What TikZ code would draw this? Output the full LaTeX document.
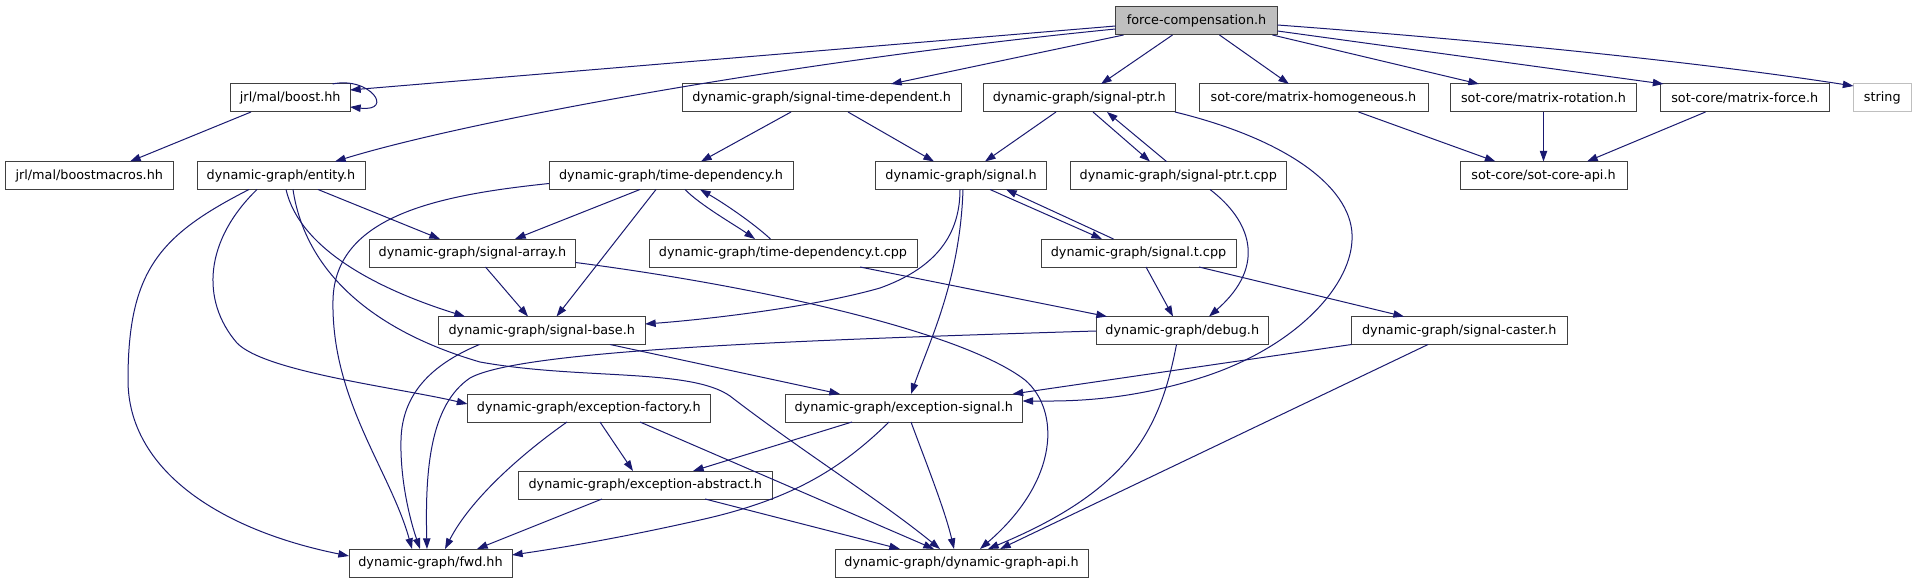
\documentclass[tikz,border=0pt]{standalone}
\usepackage{fontspec}
\setmainfont{DejaVu Sans}
\usetikzlibrary{arrows.meta,calc}
\definecolor{edgeblue}{HTML}{191970}
\definecolor{nodeborder}{HTML}{404040}
\definecolor{fcfill}{HTML}{BFBFBF}
\definecolor{strborder}{HTML}{BFBFBF}
\begin{document}
\begin{tikzpicture}[x=0.75pt,y=-0.75pt,
  nd/.style={draw=nodeborder, line width=0.75pt, fill=white, minimum height=21pt,
    inner sep=0pt, outer sep=0pt, anchor=west, text=black,
    font=\fontsize{9.6}{11}\selectfont},
  wd/.style={minimum width=#1*0.75pt},
  ed/.style={draw=edgeblue, line width=0.75pt, -{Triangle[length=8pt,width=5.5pt]}}]
\useasboundingbox (0,0) rectangle (1915,581);
\fill[white] (0,0) rectangle (1915,581);
% row 1
\node[nd, wd=162, fill=fcfill] (fc) at (1115.5,21) {force-compensation.h};
% row 2
\node[nd, wd=119.5] (boost) at (230.5,98) {jrl/mal/boost.hh};
\node[nd, wd=278.5] (std) at (682.5,98) {dynamic-graph/signal-time-dependent.h};
\node[nd, wd=191.5] (sptr) at (983.5,98) {dynamic-graph/signal-ptr.h};
\node[nd, wd=229] (mhom) at (1199,98) {sot-core/matrix-homogeneous.h};
\node[nd, wd=186] (mrot) at (1450.5,98) {sot-core/matrix-rotation.h};
\node[nd, wd=168.5] (mfor) at (1660.5,98) {sot-core/matrix-force.h};
\node[nd, wd=57.5, draw=strborder] (str) at (1853.5,98) {string};
% row 3
\node[nd, wd=168.5] (bmac) at (5,175.5) {jrl/mal/boostmacros.hh};
\node[nd, wd=168] (ent) at (197,175.5) {dynamic-graph/entity.h};
\node[nd, wd=244] (tdep) at (549,175.5) {dynamic-graph/time-dependency.h};
\node[nd, wd=171] (sig) at (875.5,175.5) {dynamic-graph/signal.h};
\node[nd, wd=215.5] (sptrt) at (1070.5,175.5) {dynamic-graph/signal-ptr.t.cpp};
\node[nd, wd=167] (sapi) at (1460,175.5) {sot-core/sot-core-api.h};
% row 4
\node[nd, wd=206] (sarr) at (369.5,253) {dynamic-graph/signal-array.h};
\node[nd, wd=268] (tdept) at (649,253) {dynamic-graph/time-dependency.t.cpp};
\node[nd, wd=195] (sigt) at (1041,253) {dynamic-graph/signal.t.cpp};
% row 5
\node[nd, wd=206.5] (sbase) at (438.5,330.5) {dynamic-graph/signal-base.h};
\node[nd, wd=172.5] (dbg) at (1096,330.5) {dynamic-graph/debug.h};
\node[nd, wd=215.5] (scast) at (1351.5,330.5) {dynamic-graph/signal-caster.h};
% row 6
\node[nd, wd=242.5] (efac) at (467.5,408) {dynamic-graph/exception-factory.h};
\node[nd, wd=237.5] (esig) at (785,408) {dynamic-graph/exception-signal.h};
% row 7
\node[nd, wd=253.5] (eabs) at (518.5,485) {dynamic-graph/exception-abstract.h};
% row 8
\node[nd, wd=163] (fwd) at (349,563) {dynamic-graph/fwd.hh};
\node[nd, wd=253] (dgapi) at (835,563) {dynamic-graph/dynamic-graph-api.h};

% edges from force-compensation.h
\draw[ed] ($(fc.west)+(0,5)$) -- ($(boost.east)+(0,-8)$);
\draw[ed] ($(fc.west)+(0,8)$) .. controls (800,60) and (470,120) .. ($(ent.north west)+(138,0)$);
\draw[ed] ($(fc.south west)+(8,0)$) -- ($(std.north west)+(208.5,0)$);
\draw[ed] ($(fc.south west)+(57,0)$) -- ($(sptr.north west)+(117.5,0)$);
\draw[ed] ($(fc.south west)+(104,0)$) -- ($(mhom.north west)+(90,0)$);
\draw[ed] ($(fc.south east)+(-5,0)$) -- ($(mrot.north west)+(28.5,0)$);
\draw[ed] ($(fc.east)+(0,10)$) -- ($(mfor.north west)+(3,0)$);
\draw[ed] ($(fc.east)+(0,4)$) .. controls (1480,40) and (1700,62) .. ($(str.north west)+(0,2)$);
% boost
\draw[ed] ($(boost.north east)+(-17.5,0)$) .. controls (370,76) and (395,112) .. ($(boost.east)+(0,9)$);
\draw[ed] ($(boost.south west)+(20.5,0)$) -- ($(bmac.north west)+(125,0)$);
% signal-time-dependent
\draw[ed] ($(std.south west)+(108.5,0)$) -- ($(tdep.north west)+(152,0)$);
\draw[ed] ($(std.south west)+(165.5,0)$) -- ($(sig.north west)+(58.5,0)$);
% signal-ptr
\draw[ed] ($(sptr.south west)+(72.5,0)$) -- ($(sig.north west)+(109.5,0)$);
\draw[ed] ($(sptr.south west)+(109.5,0)$) -- ($(sptrt.north west)+(79.5,0)$);
\draw[ed] ($(sptrt.north west)+(96,0)$) -- ($(sptr.south west)+(123.5,0)$);
\draw[ed] (sptr.south east) .. controls (1290,140) and (1355,190) .. (1352,240)
  .. controls (1350,290) and (1290,350) .. (1200,378)
  .. controls (1120,403) and (1060,401) .. ($(esig.east)+(0,-7)$);
% entity
\draw[ed] ($(ent.south west)+(52,0)$) .. controls (160,235) and (128,270) .. (128,380)
  .. controls (128,470) and (220,530) .. ($(fwd.west)+(0,-7)$);
\draw[ed] ($(ent.south west)+(60,0)$) .. controls (205,240) and (200,300) .. (237,343)
  .. controls (265,372) and (400,388) .. ($(efac.west)+(0,-4)$);
\draw[ed] ($(ent.south west)+(121,0)$) -- ($(sarr.north west)+(70.5,0)$);
\draw[ed] ($(ent.south west)+(89,0)$) .. controls (300,250) and (380,290) .. ($(sbase.north west)+(26.5,0)$);
\draw[ed] ($(ent.south west)+(96,0)$) .. controls (305,270) and (370,330) .. (480,362)
  .. controls (580,380) and (690,368) .. (730,396)
  .. controls (800,450) and (880,500) .. ($(dgapi.north west)+(105,0)$);
% time-dependency
\draw[ed] ($(tdep.south west)+(91,0)$) -- ($(sarr.north west)+(145.5,0)$);
\draw[ed] ($(tdep.south west)+(107,0)$) -- ($(sbase.north west)+(118,0)$);
\draw[ed] ($(tdep.south west)+(0,-6)$) .. controls (440,195) and (335,215) .. (333,300)
  .. controls (331,400) and (390,470) .. ($(fwd.north west)+(63,0)$);
\draw[ed] ($(tdep.south west)+(136,0)$) .. controls (700,205) and (735,225) .. ($(tdept.north west)+(106,0)$);
\draw[ed] ($(tdept.north west)+(121.5,0)$) .. controls (752,222) and (722,202) .. ($(tdep.south west)+(151,0)$);
% signal
\draw[ed] ($(sig.south west)+(84.5,0)$) .. controls (960,240) and (930,270) .. (880,288)
  .. controls (810,308) and (700,320) .. ($(sbase.east)+(0,-6.5)$);
\draw[ed] ($(sig.south west)+(87.5,0)$) .. controls (960,280) and (930,340) .. ($(esig.north west)+(126,0)$);
\draw[ed] ($(sig.south west)+(114.5,0)$) -- ($(sigt.north west)+(61,0)$);
\draw[ed] ($(sigt.north west)+(72.5,0)$) -- ($(sig.south west)+(130.5,0)$);
% signal-ptr.t.cpp
\draw[ed] ($(sptrt.south west)+(139.5,0)$) .. controls (1250,220) and (1268,265) .. ($(dbg.north west)+(113,0)$);
% sot-core
\draw[ed] ($(mhom.south west)+(159.5,0)$) -- ($(sapi.north west)+(35.5,0)$);
\draw[ed] (mrot.south) -- (sapi.north);
\draw[ed] ($(mfor.south west)+(45,0)$) -- ($(sapi.north west)+(127,0)$);
% signal-array
\draw[ed] ($(sarr.south west)+(116,0)$) -- ($(sbase.north west)+(89.5,0)$);
\draw[ed] ($(sarr.east)+(0,9.5)$) .. controls (750,285) and (960,330) .. (1025,380)
  .. controls (1060,410) and (1060,480) .. ($(dgapi.north west)+(145,0)$);
% time-dependency.t.cpp, signal.t.cpp
\draw[ed] ($(tdept.south west)+(211,0)$) -- ($(dbg.north west)+(11,0)$);
\draw[ed] ($(sigt.south west)+(105,0)$) -- ($(dbg.north west)+(77,0)$);
\draw[ed] ($(sigt.south west)+(158,0)$) -- ($(scast.north west)+(52.5,0)$);
% signal-base
\draw[ed] ($(sbase.south west)+(41,0)$) .. controls (430,365) and (402,395) .. (401,440)
  .. controls (400,480) and (410,520) .. ($(fwd.north west)+(71,0)$);
\draw[ed] ($(sbase.south west)+(171.5,0)$) -- ($(esig.north west)+(55,0)$);
% debug
\draw[ed] ($(dbg.west)+(0,0.5)$) .. controls (800,340) and (520,350) .. (470,378)
  .. controls (430,405) and (425,470) .. ($(fwd.north west)+(78,0)$);
\draw[ed] ($(dbg.south west)+(80.5,0)$) .. controls (1160,430) and (1130,490) .. ($(dgapi.north west)+(153,0)$);
% signal-caster
\draw[ed] (scast.south west) -- ($(esig.north east)+(-10,0)$);
\draw[ed] ($(scast.south west)+(76.5,0)$) -- ($(dgapi.north west)+(165,0)$);
% exception-factory
\draw[ed] ($(efac.south west)+(132.5,0)$) -- ($(eabs.north west)+(114.5,0)$);
\draw[ed] ($(efac.south west)+(99.5,0)$) .. controls (520,455) and (470,500) .. ($(fwd.north west)+(96,0)$);
\draw[ed] ($(efac.south west)+(172.5,0)$) -- ($(dgapi.north west)+(99,0)$);
% exception-signal
\draw[ed] ($(esig.south west)+(67,0)$) -- ($(eabs.north west)+(174.5,0)$);
\draw[ed] ($(esig.south west)+(104,0)$) .. controls (840,470) and (790,500) .. (700,520)
  .. controls (620,538) and (560,548) .. ($(fwd.east)+(0,-8)$);
\draw[ed] ($(esig.south west)+(126,0)$) .. controls (925,460) and (945,510) .. ($(dgapi.north west)+(119,0)$);
% exception-abstract
\draw[ed] ($(eabs.south west)+(83.5,0)$) -- ($(fwd.north west)+(128,0)$);
\draw[ed] ($(eabs.south west)+(186.5,0)$) -- ($(dgapi.north west)+(65,0)$);
\end{tikzpicture}
\end{document}
